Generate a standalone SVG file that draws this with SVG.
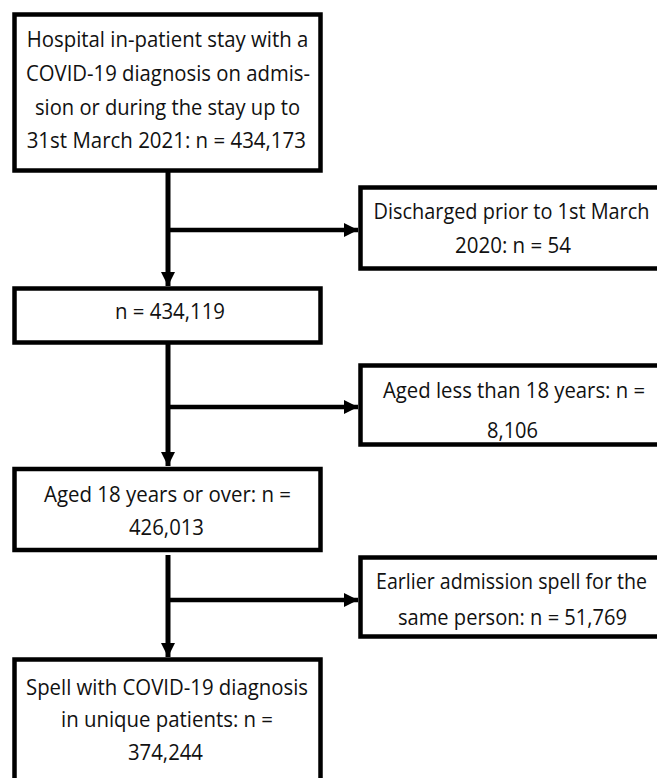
<svg xmlns="http://www.w3.org/2000/svg" width="657" height="778" viewBox="0 0 657 778">
<style>
.box{fill:#fff;stroke:#000;stroke-width:4.5}
.t{font-family:"Open Sans","Noto Sans","Liberation Sans",sans-serif;font-size:21px;fill:#111;text-anchor:middle}
.ln{stroke:#000;stroke-width:5;fill:none}
.hl{stroke:#000;stroke-width:4.5;fill:none}
</style>
<defs>
<marker id="ah" markerUnits="userSpaceOnUse" markerWidth="14" markerHeight="14" viewBox="0 0 14 14" refX="14" refY="7" orient="auto">
<path d="M0,0 L14,7 L0,14 Z" fill="#000"/>
</marker>
</defs>
<rect width="657" height="778" fill="#fff"/>
<g id="connectors">
<line class="ln" x1="168" y1="172" x2="168" y2="286" marker-end="url(#ah)"/>
<line class="hl" x1="168" y1="230" x2="358" y2="230" marker-end="url(#ah)"/>
<line class="ln" x1="168" y1="344" x2="168" y2="466" marker-end="url(#ah)"/>
<line class="hl" x1="168" y1="407" x2="358" y2="407" marker-end="url(#ah)"/>
<line class="ln" x1="168" y1="555" x2="168" y2="657" marker-end="url(#ah)"/>
<line class="hl" x1="168" y1="600" x2="358" y2="600" marker-end="url(#ah)"/>
</g>
<g id="n1">
<rect class="box" x="14.5" y="14.5" width="306" height="156"/>
<text class="t" x="167.5" y="47" textLength="281.6" lengthAdjust="spacingAndGlyphs">Hospital in-patient stay with a</text>
<text class="t" x="168" y="81" textLength="284" lengthAdjust="spacingAndGlyphs">COVID-19 diagnosis on admis-</text>
<text class="t" x="167.5" y="114.5" textLength="265" lengthAdjust="spacingAndGlyphs">sion or during the stay up to</text>
<text class="t" x="166.3" y="148" textLength="279.3" lengthAdjust="spacingAndGlyphs">31st March 2021: n = 434,173</text>
</g>
<g id="n2">
<rect class="box" x="360.5" y="187.5" width="306" height="81"/>
<text class="t" x="511.5" y="219" textLength="276" lengthAdjust="spacingAndGlyphs">Discharged prior to 1st March</text>
<text class="t" x="513" y="253.3" textLength="116" lengthAdjust="spacingAndGlyphs">2020: n = 54</text>
</g>
<g id="n3">
<rect class="box" x="14.5" y="288.5" width="306" height="54"/>
<text class="t" x="170" y="319.3" textLength="110" lengthAdjust="spacingAndGlyphs">n = 434,119</text>
</g>
<g id="n4">
<rect class="box" x="360.5" y="365.5" width="306" height="79"/>
<text class="t" x="514" y="397.5" textLength="262" lengthAdjust="spacingAndGlyphs">Aged less than 18 years: n =</text>
<text class="t" x="512.5" y="437.5" textLength="51" lengthAdjust="spacingAndGlyphs">8,106</text>
</g>
<g id="n5">
<rect class="box" x="14.5" y="469" width="306" height="81"/>
<text class="t" x="167.5" y="502" textLength="247" lengthAdjust="spacingAndGlyphs">Aged 18 years or over: n =</text>
<text class="t" x="166.5" y="535" textLength="75" lengthAdjust="spacingAndGlyphs">426,013</text>
</g>
<g id="n6">
<rect class="box" x="360.5" y="557.5" width="306" height="79"/>
<text class="t" x="511.5" y="589" textLength="271" lengthAdjust="spacingAndGlyphs">Earlier admission spell for the</text>
<text class="t" x="512.5" y="625" textLength="229" lengthAdjust="spacingAndGlyphs">same person: n = 51,769</text>
</g>
<g id="n7">
<rect class="box" x="14.5" y="659.5" width="306" height="140"/>
<text class="t" x="167" y="695" textLength="282" lengthAdjust="spacingAndGlyphs">Spell with COVID-19 diagnosis</text>
<text class="t" x="167" y="727" textLength="212" lengthAdjust="spacingAndGlyphs">in unique patients: n =</text>
<text class="t" x="165.5" y="760" textLength="75" lengthAdjust="spacingAndGlyphs">374,244</text>
</g>
</svg>
